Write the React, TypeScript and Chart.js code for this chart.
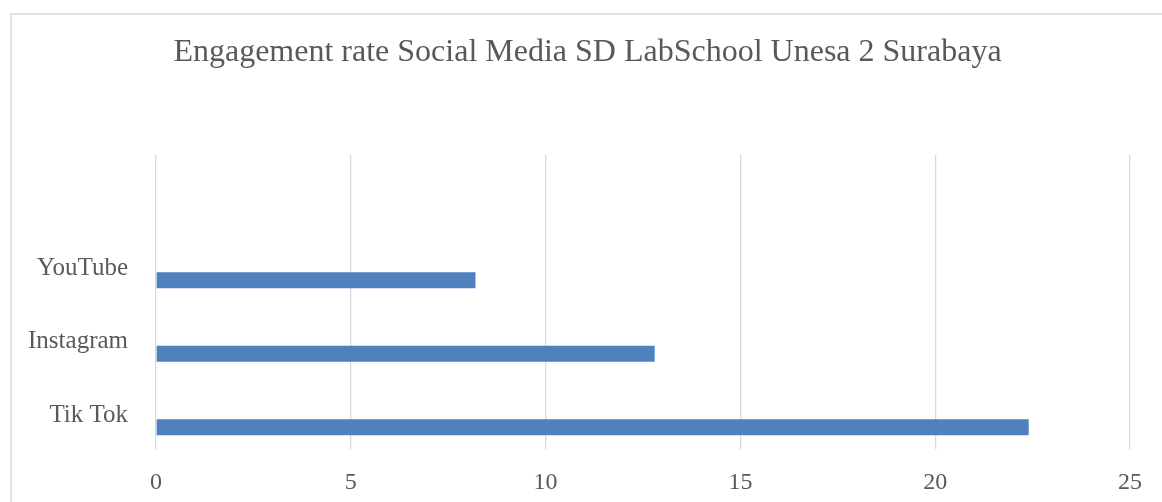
import React, { useEffect, useRef } from "react";
import { Chart, registerables } from "chart.js";

Chart.register(...registerables);

const TITLE = "Engagement rate Social Media SD LabSchool Unesa 2 Surabaya";
const categories = ["", "YouTube", "Instagram", "Tik Tok"];
const placeholderSeries: (number | null)[] = [null, null, null, null];
const engagementValues: (number | null)[] = [null, 8.2, 12.8, 22.4];
const xTickMin = 0;
const xTickMax = 25;
const xTickStep = 5;

const FONT = "'Liberation Serif', 'Times New Roman', serif";
const TEXT = "#595959";
const GRID = "#d9d9d9";
const BAR = "#4F81BD";

const titlePlugin = {
  id: "centeredTitle",
  afterDraw(chart: any) {
    const ctx = chart.ctx;
    ctx.save();
    ctx.fillStyle = TEXT;
    ctx.font = `normal 32px ${FONT}`;
    ctx.textAlign = "center";
    ctx.textBaseline = "middle";
    ctx.fillText(TITLE, 587.5, 53);
    ctx.restore();
  },
};

export default function App() {
  const ref = useRef<HTMLCanvasElement | null>(null);

  useEffect(() => {
    if (!ref.current) return;
    const chart = new Chart(ref.current, {
      type: "bar",
      data: {
        labels: categories,
        datasets: [
          {
            label: "",
            data: placeholderSeries,
            backgroundColor: BAR,
            categoryPercentage: 0.816,
            barPercentage: 0.533,
          },
          {
            label: "Engagement rate",
            data: engagementValues,
            backgroundColor: BAR,
            categoryPercentage: 0.816,
            barPercentage: 0.533,
          },
        ],
      },
      options: {
        indexAxis: "y",
        animation: false,
        responsive: true,
        maintainAspectRatio: false,
        layout: { padding: { top: 155, left: 0, right: 32, bottom: 0 } },
        plugins: {
          legend: { display: false },
          tooltip: { enabled: false },
          title: { display: false },
        },
        scales: {
          x: {
            min: xTickMin,
            max: xTickMax,
            ticks: {
              stepSize: xTickStep,
              color: TEXT,
              font: { family: FONT, size: 24 },
              padding: 19,
            },
            grid: { color: GRID, lineWidth: 1.3, drawTicks: false },
            border: { display: false },
            afterFit: (s: any) => {
              s.height = 53;
            },
          },
          y: {
            ticks: {
              color: TEXT,
              font: { family: FONT, size: 25 },
              padding: 28,
              labelOffset: 3,
            },
            grid: { display: false, drawTicks: false },
            border: { display: false },
            afterFit: (s: any) => {
              s.width = 156;
            },
          },
        },
      },
      plugins: [titlePlugin],
    });
    return () => chart.destroy();
  }, []);

  return (
    <div
      style={{
        position: "fixed",
        left: 0,
        top: 0,
        width: 1162,
        height: 502,
        overflow: "hidden",
        background: "#fff",
      }}
    >
      <div
        style={{
          position: "absolute",
          left: 10,
          top: 13,
          width: 1300,
          height: 700,
          border: `2px solid #e3e3e3`,
          boxSizing: "border-box",
        }}
      />
      <div style={{ position: "absolute", left: 0, top: 0, width: 1162, height: 502 }}>
        <canvas ref={ref} />
      </div>
    </div>
  );
}
